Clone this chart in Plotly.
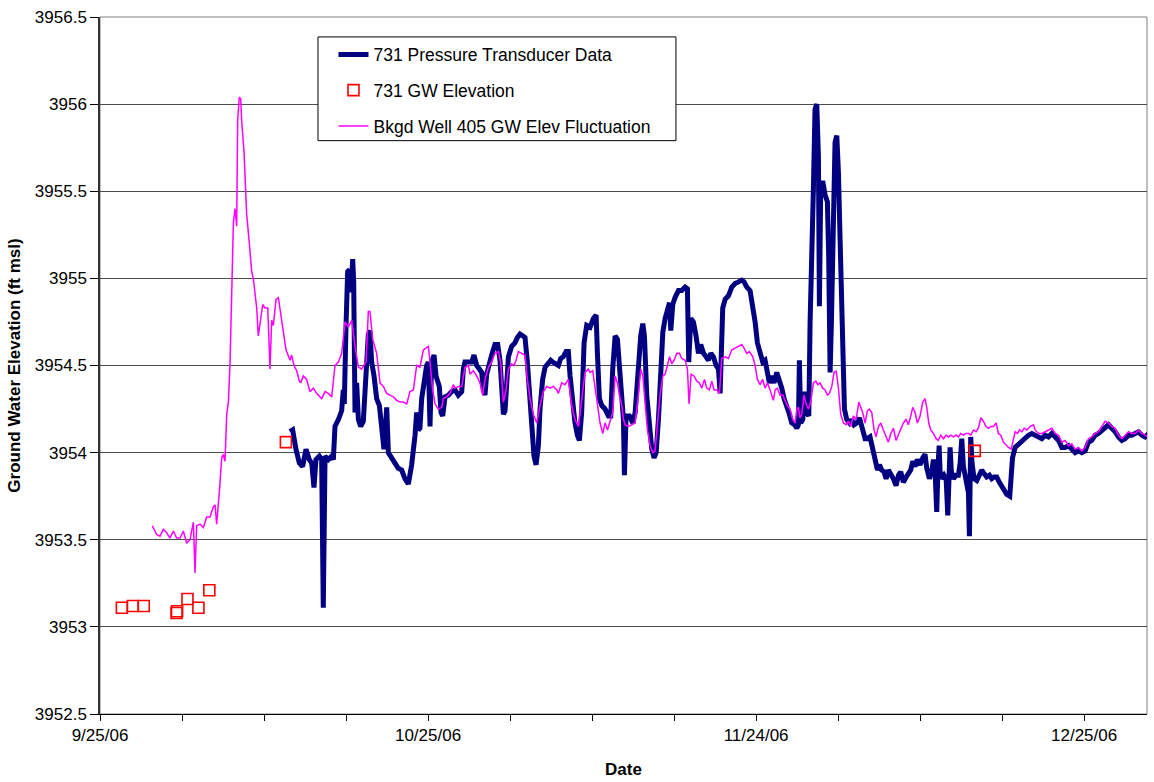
import pandas as pd
import plotly.graph_objects as go

# Observation dates are stored as days elapsed since the first calendar day of the record
START_DATE = "2006-09-25"

# 731 pressure transducer record (ft msl)
transducer_day = [
    17.37, 17.62, 17.92, 18.23, 18.53, 18.84, 19.14, 19.36, 19.57, 19.75, 20.06, 20.27, 20.42, 20.58,
    20.88, 21.19, 21.34, 21.49, 21.80, 21.95, 22.10, 22.25, 22.34, 22.50, 22.65, 22.80, 22.95, 23.11,
    23.20, 23.32, 23.47, 23.63, 23.84, 24.08, 24.33, 24.54, 24.69, 24.84, 25.06, 25.30, 25.55, 25.76,
    25.97, 26.22, 26.37, 26.67, 26.98, 27.28, 27.59, 27.89, 28.20, 28.50, 28.81, 28.96, 29.11, 29.26,
    29.42, 29.63, 29.87, 30.03, 30.18, 30.33, 30.55, 30.73, 30.85, 31.03, 31.19, 31.34, 31.55, 31.86,
    32.16, 32.47, 32.77, 33.08, 33.23, 33.38, 33.69, 33.99, 34.20, 34.45, 34.69, 34.91, 35.06, 35.21,
    35.36, 35.61, 35.82, 36.12, 36.37, 36.58, 36.73, 36.89, 37.04, 37.19, 37.35, 37.65, 37.95, 38.17,
    38.41, 38.66, 38.87, 39.08, 39.27, 39.48, 39.69, 39.88, 40.09, 40.24, 40.48, 40.70, 41.00, 41.22,
    41.40, 41.61, 41.92, 42.13, 42.37, 42.62, 42.83, 42.99, 43.23, 43.44, 43.66, 43.84, 44.05, 44.27,
    44.51, 44.82, 45.12, 45.37, 45.49, 45.67, 45.89, 46.19, 46.50, 46.71, 46.89, 47.11, 47.32, 47.50,
    47.72, 47.87, 47.96, 48.11, 48.42, 48.72, 48.94, 49.24, 49.45, 49.64, 49.79, 50.00, 50.25, 50.46,
    50.67, 50.86, 51.07, 51.28, 51.47, 51.68, 51.89, 52.08, 52.20, 52.38, 52.59, 52.90, 53.20, 53.51,
    53.72, 53.84, 54.03, 54.27, 54.51, 54.73, 54.94, 55.19, 55.43, 55.64, 55.86, 56.10, 56.34, 56.56,
    56.71, 56.86, 56.95, 57.17, 57.47, 57.78, 58.08, 58.39, 58.69, 58.90, 59.15, 59.45, 59.70, 59.91,
    60.12, 60.36, 60.61, 60.82, 61.04, 61.22, 61.43, 61.64, 61.89, 62.13, 62.35, 62.56, 62.80, 63.05,
    63.26, 63.51, 63.72, 63.87, 63.96, 64.08, 64.27, 64.45, 64.63, 64.82, 64.94, 65.12, 65.24, 65.39,
    65.55, 65.70, 65.79, 65.91, 66.09, 66.31, 66.52, 66.64, 66.77, 66.89, 67.07, 67.22, 67.38, 67.53,
    67.68, 67.87, 67.99, 68.08, 68.29, 68.54, 68.75, 68.96, 69.21, 69.45, 69.75, 69.97, 70.18, 70.42,
    70.67, 70.88, 71.10, 71.28, 71.49, 71.70, 71.89, 72.10, 72.32, 72.56, 72.80, 73.02, 73.23, 73.47,
    73.72, 73.93, 74.14, 74.33, 74.54, 74.75, 75.00, 75.24, 75.45, 75.61, 75.85, 76.06, 76.22, 76.37,
    76.52, 76.64, 76.74, 76.83, 76.98, 77.19, 77.38, 77.53, 77.65, 77.74, 77.86, 78.05, 78.29, 78.50,
    78.66, 78.81, 78.96, 79.11, 79.27, 79.42, 79.51, 79.63, 79.75, 79.94, 80.18, 80.42, 80.64, 80.85,
    81.09, 81.34, 81.55, 81.77, 82.01, 82.25, 82.47, 82.68, 82.93, 83.20, 83.45, 83.69, 84.00, 84.30,
    84.61, 84.91, 85.22, 85.52, 85.83, 86.13, 86.44, 86.74, 87.05, 87.35, 87.66, 87.96, 88.27, 88.57,
    88.88, 89.18, 89.48, 89.79, 90.09, 90.40, 90.70, 91.01, 91.31, 91.62, 91.92, 92.23, 92.53, 92.84,
    93.14, 93.45, 93.75, 94.06, 94.36, 94.67, 94.97, 95.28, 95.58, 95.90,
]
transducer_elev = [
    3954.12, 3954.13, 3954.02, 3953.94, 3953.92, 3954.02, 3953.96, 3953.94, 3953.80, 3953.96, 3953.98, 3953.96, 3953.11, 3953.98,
    3953.96, 3953.98, 3953.96, 3954.15, 3954.19, 3954.23, 3954.24, 3954.36, 3954.28, 3954.73, 3955.04, 3955.05, 3954.92, 3955.11,
    3954.98, 3954.23, 3954.40, 3954.19, 3954.15, 3954.18, 3954.46, 3954.68, 3954.70, 3954.52, 3954.44, 3954.31, 3954.27, 3954.10,
    3954.02, 3954.26, 3954.00, 3953.97, 3953.94, 3953.91, 3953.90, 3953.85, 3953.82, 3953.93, 3954.10, 3954.23, 3954.13, 3954.14,
    3954.31, 3954.42, 3954.50, 3954.52, 3954.15, 3954.52, 3954.56, 3954.44, 3954.42, 3954.38, 3954.23, 3954.21, 3954.32, 3954.33,
    3954.35, 3954.36, 3954.33, 3954.35, 3954.48, 3954.52, 3954.52, 3954.52, 3954.56, 3954.50, 3954.48, 3954.46, 3954.36, 3954.33,
    3954.45, 3954.52, 3954.56, 3954.62, 3954.62, 3954.53, 3954.42, 3954.22, 3954.24, 3954.42, 3954.55, 3954.61, 3954.63, 3954.66,
    3954.68, 3954.67, 3954.66, 3954.52, 3954.34, 3954.08, 3953.98, 3953.93, 3954.04, 3954.25, 3954.42, 3954.49, 3954.52, 3954.53,
    3954.52, 3954.51, 3954.50, 3954.54, 3954.55, 3954.58, 3954.58, 3954.44, 3954.29, 3954.17, 3954.10, 3954.07, 3954.23, 3954.63,
    3954.73, 3954.72, 3954.77, 3954.79, 3954.57, 3954.31, 3954.27, 3954.25, 3954.21, 3954.21, 3954.48, 3954.67, 3954.65, 3954.50,
    3954.29, 3954.19, 3953.87, 3954.21, 3954.21, 3954.17, 3954.23, 3954.52, 3954.67, 3954.74, 3954.67, 3954.33, 3954.11, 3954.02,
    3953.97, 3954.00, 3954.19, 3954.48, 3954.69, 3954.77, 3954.83, 3954.86, 3954.70, 3954.85, 3954.89, 3954.93, 3954.93, 3954.95,
    3954.94, 3954.52, 3954.77, 3954.75, 3954.67, 3954.57, 3954.62, 3954.57, 3954.55, 3954.53, 3954.57, 3954.55, 3954.50, 3954.48,
    3954.34, 3954.56, 3954.83, 3954.88, 3954.90, 3954.95, 3954.97, 3954.98, 3954.99, 3954.98, 3954.95, 3954.93, 3954.84, 3954.75,
    3954.63, 3954.56, 3954.52, 3954.53, 3954.46, 3954.40, 3954.44, 3954.40, 3954.46, 3954.42, 3954.37, 3954.31, 3954.27, 3954.22,
    3954.17, 3954.16, 3954.14, 3954.16, 3954.53, 3954.17, 3954.19, 3954.35, 3954.23, 3954.21, 3954.75, 3955.48, 3955.51, 3955.97,
    3956.00, 3955.70, 3954.84, 3955.51, 3955.56, 3955.48, 3955.44, 3955.13, 3954.46, 3954.75, 3955.51, 3955.78, 3955.82, 3955.61,
    3955.23, 3954.75, 3954.73, 3954.25, 3954.19, 3954.17, 3954.19, 3954.16, 3954.17, 3954.20, 3954.13, 3954.08, 3954.08, 3954.09,
    3954.02, 3953.94, 3953.90, 3953.93, 3953.90, 3953.89, 3953.85, 3953.90, 3953.88, 3953.85, 3953.81, 3953.87, 3953.89, 3953.83,
    3953.86, 3953.88, 3953.90, 3953.95, 3953.92, 3953.96, 3953.93, 3953.97, 3953.99, 3953.91, 3953.85, 3953.89, 3953.96, 3953.89,
    3953.66, 3953.92, 3954.04, 3953.89, 3953.85, 3953.87, 3953.85, 3953.64, 3953.96, 3954.03, 3953.89, 3953.85, 3953.87, 3953.87,
    3953.94, 3954.08, 3953.92, 3953.87, 3953.85, 3953.77, 3953.52, 3954.09, 3953.94, 3953.85, 3953.84, 3953.87, 3953.90, 3953.88,
    3953.86, 3953.87, 3953.85, 3953.86, 3953.86, 3953.83, 3953.81, 3953.79, 3953.76, 3953.75, 3953.97, 3954.03, 3954.05, 3954.07,
    3954.08, 3954.10, 3954.11, 3954.10, 3954.09, 3954.08, 3954.10, 3954.09, 3954.11, 3954.09, 3954.07, 3954.03, 3954.03, 3954.04,
    3954.02, 3954.00, 3954.01, 3954.00, 3954.01, 3954.06, 3954.07, 3954.10, 3954.11, 3954.13, 3954.15, 3954.16, 3954.14, 3954.12,
    3954.09, 3954.07, 3954.08, 3954.10, 3954.10, 3954.11, 3954.12, 3954.10, 3954.09, 3954.11,
]

# 731 manual groundwater elevation measurements (ft msl)
gw_day = [2, 3, 4, 7, 7.05, 8, 9, 10, 17, 80]
gw_elev = [3953.11, 3953.12, 3953.12, 3953.08, 3953.09, 3953.16, 3953.11, 3953.21, 3954.06, 3954.01]

# Background well 405 groundwater elevation fluctuation (ft msl)
bkgd_day = [
    4.79, 5.18, 5.49, 5.79, 6.10, 6.40, 6.71, 7.01, 7.32, 7.62, 7.93, 8.23, 8.54, 8.69, 8.84, 9.15,
    9.45, 9.76, 10.06, 10.37, 10.52, 10.67, 10.91, 11.13, 11.28, 11.43, 11.59, 11.74, 11.89, 12.04,
    12.20, 12.35, 12.50, 12.59, 12.74, 12.87, 12.96, 13.17, 13.41, 13.66, 13.87, 14.02, 14.18, 14.33,
    14.48, 14.63, 14.88, 15.09, 15.34, 15.55, 15.70, 15.85, 16.10, 16.31, 16.62, 17.01, 17.38, 17.53,
    17.74, 17.99, 18.23, 18.35, 18.59, 18.90, 19.20, 19.51, 19.81, 20.27, 20.58, 20.88, 21.19, 21.49,
    21.80, 22.10, 22.41, 22.71, 23.02, 23.32, 23.63, 23.93, 24.33, 24.54, 24.69, 24.94, 25.30, 25.61,
    25.91, 26.22, 26.52, 26.83, 27.13, 27.44, 27.74, 28.05, 28.35, 28.66, 28.96, 29.26, 29.57, 30.03,
    30.18, 30.42, 30.64, 30.94, 31.25, 31.40, 31.70, 32.01, 32.31, 32.47, 32.77, 33.08, 33.38, 33.69,
    33.84, 34.14, 34.45, 34.75, 35.00, 35.21, 35.52, 35.82, 36.12, 36.43, 36.64, 36.89, 37.13, 37.35,
    37.65, 37.86, 38.05, 38.26, 38.56, 38.87, 39.08, 39.33, 39.63, 39.94, 40.24, 40.55, 40.85, 41.16,
    41.46, 41.77, 41.92, 42.22, 42.53, 42.83, 43.14, 43.44, 43.75, 44.05, 44.36, 44.66, 44.82, 45.06,
    45.28, 45.49, 45.73, 45.98, 46.19, 46.41, 46.65, 46.89, 47.11, 47.32, 47.50, 47.72, 47.87, 48.02,
    48.33, 48.63, 48.94, 49.24, 49.45, 49.64, 49.85, 50.06, 50.31, 50.55, 50.76, 50.98, 51.22, 51.47,
    51.68, 51.89, 52.08, 52.29, 52.50, 52.75, 52.99, 53.20, 53.51, 53.72, 53.87, 54.06, 54.33, 54.58,
    54.82, 55.03, 55.28, 55.49, 55.73, 55.95, 56.16, 56.41, 56.65, 56.86, 57.17, 57.47, 57.78, 58.08,
    58.39, 58.69, 58.90, 59.15, 59.39, 59.70, 59.91, 60.12, 60.36, 60.61, 60.82, 61.04, 61.28, 61.58,
    61.74, 61.95, 62.19, 62.44, 62.65, 62.86, 63.11, 63.35, 63.57, 63.72, 63.87, 64.02, 64.18, 64.39,
    64.57, 64.79, 65.00, 65.24, 65.46, 65.64, 65.85, 66.09, 66.31, 66.52, 66.71, 66.92, 67.13, 67.32,
    67.53, 67.74, 67.99, 68.23, 68.44, 68.66, 68.90, 69.15, 69.39, 69.75, 69.97, 70.18, 70.36, 70.58,
    70.79, 70.97, 71.19, 71.40, 71.64, 71.89, 72.10, 72.32, 72.56, 72.80, 73.02, 73.23, 73.47, 73.72,
    73.93, 74.14, 74.33, 74.54, 74.75, 75.00, 75.24, 75.45, 75.61, 75.79, 75.97, 76.22, 76.46, 76.67,
    76.89, 77.13, 77.38, 77.59, 77.80, 78.05, 78.29, 78.50, 78.72, 78.96, 79.21, 79.42, 79.63, 79.88,
    80.12, 80.33, 80.55, 80.79, 81.03, 81.25, 81.46, 81.71, 81.95, 82.16, 82.38, 82.62, 82.87, 83.08,
    83.33, 83.54, 83.69, 83.91, 84.09, 84.30, 84.52, 84.76, 85.06, 85.37, 85.52, 85.83, 86.13, 86.44,
    86.74, 87.05, 87.35, 87.66, 87.96, 88.27, 88.57, 88.88, 89.18, 89.48, 89.79, 90.09, 90.40, 90.70,
    91.01, 91.31, 91.62, 91.92, 92.23, 92.53, 92.84, 93.14, 93.45, 93.75, 94.06, 94.36, 94.67, 94.97,
    95.28, 95.58, 95.90,
]
bkgd_elev = [
    3953.58, 3953.53, 3953.52, 3953.56, 3953.54, 3953.51, 3953.55, 3953.51, 3953.51, 3953.55, 3953.48, 3953.50, 3953.60, 3953.31, 3953.58, 3953.59,
    3953.57, 3953.63, 3953.63, 3953.69, 3953.70, 3953.59, 3953.77, 3953.97, 3953.99, 3953.95, 3954.22, 3954.29, 3954.51, 3954.98,
    3955.32, 3955.40, 3955.30, 3955.91, 3956.04, 3956.03, 3955.90, 3955.73, 3955.37, 3955.20, 3955.04, 3955.00, 3954.91, 3954.83,
    3954.67, 3954.75, 3954.85, 3954.83, 3954.83, 3954.48, 3954.76, 3954.73, 3954.88, 3954.89, 3954.75, 3954.59, 3954.53, 3954.56,
    3954.50, 3954.47, 3954.41, 3954.40, 3954.44, 3954.42, 3954.35, 3954.37, 3954.34, 3954.31, 3954.35, 3954.34, 3954.32, 3954.50,
    3954.52, 3954.57, 3954.75, 3954.72, 3954.76, 3954.61, 3954.49, 3954.48, 3954.52, 3954.81, 3954.81, 3954.65, 3954.57, 3954.40,
    3954.38, 3954.34, 3954.33, 3954.32, 3954.30, 3954.29, 3954.29, 3954.28, 3954.35, 3954.36, 3954.50, 3954.49, 3954.59, 3954.61,
    3954.52, 3954.36, 3954.28, 3954.25, 3954.26, 3954.31, 3954.32, 3954.34, 3954.39, 3954.37, 3954.38, 3954.38, 3954.49, 3954.50,
    3954.45, 3954.47, 3954.44, 3954.40, 3954.33, 3954.42, 3954.49, 3954.52, 3954.57, 3954.58, 3954.52, 3954.29, 3954.36, 3954.48,
    3954.51, 3954.50, 3954.53, 3954.58, 3954.57, 3954.56, 3954.42, 3954.31, 3954.22, 3954.17, 3954.27, 3954.35, 3954.38, 3954.37,
    3954.38, 3954.36, 3954.34, 3954.40, 3954.39, 3954.42, 3954.27, 3954.19, 3954.15, 3954.32, 3954.46, 3954.48, 3954.46, 3954.47,
    3954.38, 3954.27, 3954.17, 3954.11, 3954.17, 3954.13, 3954.18, 3954.23, 3954.44, 3954.40, 3954.33, 3954.27, 3954.19, 3954.16,
    3954.15, 3954.16, 3954.17, 3954.33, 3954.48, 3954.44, 3954.29, 3954.13, 3954.04, 3954.00, 3954.01, 3954.15, 3954.33, 3954.44,
    3954.45, 3954.50, 3954.55, 3954.51, 3954.53, 3954.57, 3954.57, 3954.54, 3954.53, 3954.48, 3954.28, 3954.45, 3954.44, 3954.41,
    3954.40, 3954.37, 3954.42, 3954.37, 3954.36, 3954.41, 3954.36, 3954.36, 3954.34, 3954.54, 3954.55, 3954.54, 3954.59, 3954.60,
    3954.61, 3954.62, 3954.60, 3954.57, 3954.58, 3954.55, 3954.50, 3954.42, 3954.39, 3954.42, 3954.37, 3954.40, 3954.36, 3954.30,
    3954.36, 3954.37, 3954.33, 3954.33, 3954.30, 3954.27, 3954.25, 3954.19, 3954.17, 3954.25, 3954.26, 3954.20, 3954.22, 3954.33,
    3954.28, 3954.25, 3954.29, 3954.40, 3954.41, 3954.39, 3954.40, 3954.37, 3954.36, 3954.33, 3954.34, 3954.38, 3954.46, 3954.47,
    3954.37, 3954.22, 3954.17, 3954.16, 3954.18, 3954.15, 3954.21, 3954.19, 3954.29, 3954.23, 3954.17, 3954.24, 3954.25, 3954.23,
    3954.13, 3954.09, 3954.15, 3954.17, 3954.13, 3954.09, 3954.06, 3954.11, 3954.14, 3954.07, 3954.10, 3954.13, 3954.17, 3954.19,
    3954.16, 3954.21, 3954.26, 3954.23, 3954.17, 3954.21, 3954.29, 3954.31, 3954.26, 3954.17, 3954.13, 3954.11, 3954.08, 3954.07,
    3954.10, 3954.08, 3954.10, 3954.09, 3954.10, 3954.09, 3954.10, 3954.09, 3954.11, 3954.10, 3954.11, 3954.11, 3954.10, 3954.13,
    3954.12, 3954.14, 3954.20, 3954.18, 3954.15, 3954.14, 3954.15, 3954.15, 3954.17, 3954.11, 3954.10, 3954.06, 3954.04, 3954.03,
    3954.02, 3954.09, 3954.12, 3954.11, 3954.13, 3954.12, 3954.14, 3954.13, 3954.15, 3954.16, 3954.13, 3954.11, 3954.11, 3954.12,
    3954.13, 3954.14, 3954.11, 3954.10, 3954.06, 3954.07, 3954.04, 3954.05, 3954.02, 3954.03, 3954.01, 3954.03, 3954.08, 3954.09,
    3954.11, 3954.12, 3954.15, 3954.18, 3954.17, 3954.15, 3954.14, 3954.10, 3954.08, 3954.10, 3954.12, 3954.11, 3954.11, 3954.13,
    3954.11, 3954.10, 3954.09,
]

# Axis labelling
x_tick_days = [0, 30, 60, 90]
x_tick_labels = ["9/25/06", "10/25/06", "11/24/06", "12/25/06"]
x_axis_days = [0, 95.75]
y_range = [3952.5, 3956.5]

start = pd.Timestamp(START_DATE)


def to_dates(days):
    return start + pd.to_timedelta(pd.Series(days, dtype=float), unit="D")


FONT = "Liberation Sans, Arial, sans-serif"

fig = go.Figure()

fig.add_trace(go.Scatter(
    x=to_dates(transducer_day), y=transducer_elev, mode="lines",
    name="731 Pressure Transducer Data",
    line=dict(color="#000080", width=5),
    legendgroup="a", legendrank=1,
))
fig.add_trace(go.Scatter(
    x=to_dates(bkgd_day), y=bkgd_elev, mode="lines",
    name="Bkgd Well 405 GW Elev Fluctuation",
    line=dict(color="#FF00FF", width=1.5),
    legendgroup="c", legendrank=3,
))
fig.add_trace(go.Scatter(
    x=to_dates(gw_day), y=gw_elev, mode="markers",
    name="731 GW Elevation",
    marker=dict(symbol="square-open", size=11, color="#FF0000", line=dict(width=1.6, color="#FF0000")),
    legendgroup="b", legendrank=2,
))

x_ticks = to_dates(x_tick_days)
x_limits = to_dates(x_axis_days)

fig.update_layout(
    width=1154, height=782,
    margin=dict(l=100, r=7, t=17, b=66),
    paper_bgcolor="white", plot_bgcolor="white",
    font=dict(family=FONT, size=17, color="black"),
    showlegend=True,
    legend=dict(
        x=0.223, y=0.972, xanchor="left", yanchor="top",
        bgcolor="rgba(0,0,0,0)", borderwidth=0,
        font=dict(family=FONT, size=17.5, color="black"),
        traceorder="grouped", tracegroupgap=10,
    ),
    xaxis=dict(
        type="date",
        range=[x_limits.iloc[0], x_limits.iloc[1]],
        tickmode="array", tickvals=list(x_ticks), ticktext=x_tick_labels,
        ticks="outside", ticklen=6, tickcolor="black", tickwidth=1,
        showline=True, linecolor="black", linewidth=1,
        showgrid=False, zeroline=False,
        tickfont=dict(family=FONT, size=17),
        minor=dict(dtick=7.5 * 86400000, tick0=START_DATE, ticks="outside", ticklen=6,
                   tickcolor="black", showgrid=False),
        title=dict(text="Date", font=dict(family=FONT, size=17, weight="bold"), standoff=18),
    ),
    yaxis=dict(
        range=y_range, dtick=0.5, tick0=3952.5, tickformat=".1~f",
        ticks="outside", ticklen=8, tickcolor="black",
        showline=True, linecolor="#333333", linewidth=1.5,
        showgrid=True, gridcolor="#4d4d4d", gridwidth=1,
        zeroline=False,
        tickfont=dict(family=FONT, size=17),
        title=dict(text="Ground Water Elevation (ft msl)",
                   font=dict(family=FONT, size=17, weight="bold"), standoff=10),
    ),
    shapes=[
        # plot-area frame
        dict(type="rect", xref="paper", yref="paper", x0=0, x1=1, y0=0, y1=1,
             line=dict(color="#808080", width=1), layer="below"),
        # legend panel
        dict(type="rect", xref="paper", yref="paper", x0=0.2082, x1=0.5501, y0=0.8226, y1=0.9714,
             line=dict(color="black", width=1), fillcolor="white", layer="above"),
    ],
)

fig.write_html("out.html")
